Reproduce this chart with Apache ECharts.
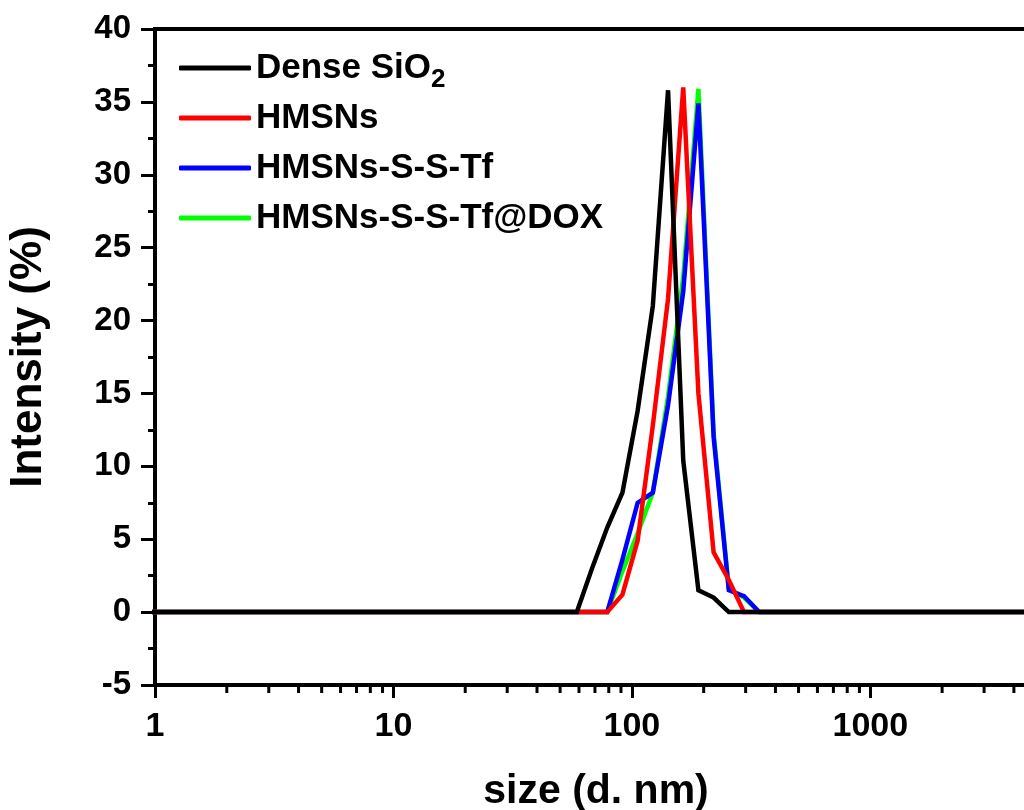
<!DOCTYPE html>
<html>
<head>
<meta charset="utf-8">
<title>DLS size distribution</title>
<script src="https://cdn.jsdelivr.net/npm/echarts@6/dist/echarts.min.js"></script>
<style>
  html, body { margin: 0; padding: 0; background: #fff; }
  #chart { width: 1024px; height: 810px; }
</style>
</head>
<body>
<div id="chart"></div>
<script>
// Zetasizer size classes (d. nm)
const sizeBins = [
  0.4, 0.4632, 0.5365, 0.6213, 0.7195, 0.8332, 0.9649,
  1.117, 1.294, 1.499, 1.736, 2.01, 2.328, 2.696, 3.122, 3.615, 4.187, 4.849, 5.615, 6.503, 7.531, 8.721,
  10.1, 11.7, 13.54, 15.69, 18.17, 21.04, 24.36, 28.21, 32.67, 37.84, 43.82, 50.75, 58.77, 68.06, 78.82, 91.28,
  105.7, 122.4, 141.8, 164.2, 190.1, 220.2, 255.0, 295.3, 342.0, 396.1, 458.7, 531.2, 615.1, 712.4, 825.0, 955.4,
  1106, 1281, 1484, 1718, 1990, 2305, 2669, 3091, 3580, 4145, 4801, 5560, 6439, 7456, 8635, 10000
];

// Intensity (%) per size class
const denseSiO2 = [
  0, 0, 0, 0, 0, 0, 0,
  0, 0, 0, 0, 0, 0, 0, 0, 0, 0, 0, 0, 0, 0, 0,
  0, 0, 0, 0, 0, 0, 0, 0, 0, 0, 0, 0, 0, 3.0, 5.8, 8.2,
  13.8, 21.0, 35.8, 10.4, 1.5, 1.0, 0, 0, 0, 0, 0, 0, 0, 0, 0, 0,
  0, 0, 0, 0, 0, 0, 0, 0, 0, 0, 0, 0, 0, 0, 0, 0
];
const hmsns = [
  0, 0, 0, 0, 0, 0, 0,
  0, 0, 0, 0, 0, 0, 0, 0, 0, 0, 0, 0, 0, 0, 0,
  0, 0, 0, 0, 0, 0, 0, 0, 0, 0, 0, 0, 0, 0, 0, 1.2,
  4.9, 12.8, 21.5, 36.0, 15.0, 4.1, 2.2, 0, 0, 0, 0, 0, 0, 0, 0, 0,
  0, 0, 0, 0, 0, 0, 0, 0, 0, 0, 0, 0, 0, 0, 0, 0
];
const hmsnsSSTf = [
  0, 0, 0, 0, 0, 0, 0,
  0, 0, 0, 0, 0, 0, 0, 0, 0, 0, 0, 0, 0, 0, 0,
  0, 0, 0, 0, 0, 0, 0, 0, 0, 0, 0, 0, 0, 0, 0, 3.6,
  7.5, 8.2, 14.2, 22.0, 34.9, 12.0, 1.5, 1.1, 0, 0, 0, 0, 0, 0, 0, 0,
  0, 0, 0, 0, 0, 0, 0, 0, 0, 0, 0, 0, 0, 0, 0, 0
];
const hmsnsSSTfDox = [
  0, 0, 0, 0, 0, 0, 0,
  0, 0, 0, 0, 0, 0, 0, 0, 0, 0, 0, 0, 0, 0, 0,
  0, 0, 0, 0, 0, 0, 0, 0, 0, 0, 0, 0, 0, 0, 0, 2.8,
  5.4, 8.2, 14.8, 23.0, 35.9, 12.3, 1.6, 1.0, 0, 0, 0, 0, 0, 0, 0, 0,
  0, 0, 0, 0, 0, 0, 0, 0, 0, 0, 0, 0, 0, 0, 0, 0
];

const seriesNames = ['Dense SiO2', 'HMSNs', 'HMSNs-S-S-Tf', 'HMSNs-S-S-Tf@DOX'];
const seriesColors = ['#000000', '#ff0000', '#0000ff', '#00ff00'];
const seriesValues = [denseSiO2, hmsns, hmsnsSSTf, hmsnsSSTfDox];

// Axis ranges and the minor tick positions of the log axis
const xMin = 1, xMax = 5000;
const yMin = -5, yMax = 40, yStep = 5;
const xMinorTicks = [
  2, 3, 4, 5, 6, 7, 8, 9,
  20, 30, 40, 50, 60, 70, 80, 90,
  200, 300, 400, 500, 600, 700, 800, 900,
  2000, 3000, 4000
];

const FONT = '"Liberation Sans", Arial, sans-serif';

function pairs(values) {
  return sizeBins.map((s, i) => [s, values[i]]);
}

// drawn back to front: the @DOX curve first, Dense SiO2 on top
const lineSeries = [3, 2, 1, 0].map(i => ({
  name: seriesNames[i],
  type: 'line',
  data: pairs(seriesValues[i]),
  symbol: 'none',
  smooth: false,
  clip: true,
  color: seriesColors[i],
  lineStyle: { color: seriesColors[i], width: 4.5, join: 'miter' }
}));

const minorTickSeries = {
  type: 'custom',
  name: 'minorTicks',
  silent: true,
  clip: false,
  data: xMinorTicks.map(v => [v, yMin]),
  renderItem: function (params, api) {
    const p = api.coord([api.value(0), yMin]);
    return {
      type: 'line',
      shape: { x1: p[0], y1: p[1], x2: p[0], y2: p[1] + 8 },
      style: { stroke: '#000', lineWidth: 3 }
    };
  }
};

const chart = echarts.init(document.getElementById('chart'), null, { renderer: 'canvas' });
chart.setOption({
  animation: false,
  backgroundColor: '#ffffff',
  grid: {
    left: 155, top: 29, width: 882, height: 656,
    show: true, borderColor: '#000', borderWidth: 4, backgroundColor: 'transparent',
    containLabel: false, outerBoundsMode: 'none'
  },
  legend: {
    orient: 'vertical',
    left: 179, top: 43, padding: 0,
    icon: 'roundRect',
    itemWidth: 72, itemHeight: 5, itemGap: 0,
    data: seriesNames,
    formatter: name => name === 'Dense SiO2' ? 'Dense SiO{sub|2}' : name,
    textStyle: {
      fontFamily: FONT, fontSize: 35, fontWeight: 'bold', color: '#000', lineHeight: 50,
      rich: {
        sub: { fontFamily: FONT, fontSize: 26, fontWeight: 'bold', color: '#000', lineHeight: 14, verticalAlign: 'bottom' }
      }
    }
  },
  xAxis: {
    type: 'log', logBase: 10, min: xMin, max: xMax,
    name: 'size (d. nm)', nameLocation: 'middle', nameGap: 86,
    nameTextStyle: { fontFamily: FONT, fontSize: 41, fontWeight: 'bold', color: '#000' },
    axisLine: { show: true, onZero: false, lineStyle: { color: '#000', width: 4 } },
    axisTick: { show: true, inside: false, length: 13, lineStyle: { color: '#000', width: 3 } },
    axisLabel: {
      fontFamily: FONT, fontSize: 34, fontWeight: 'bold', color: '#000', margin: 25,
      showMaxLabel: false,
      formatter: v => String(Math.round(v))
    },
    splitLine: { show: false },
    minorTick: { show: false }
  },
  yAxis: {
    type: 'value', min: yMin, max: yMax, interval: yStep,
    name: 'Intensity (%)', nameLocation: 'middle', nameGap: 104, nameRotate: 90,
    nameTextStyle: { fontFamily: FONT, fontSize: 44, fontWeight: 'bold', color: '#000' },
    axisLine: { show: true, onZero: false, lineStyle: { color: '#000', width: 4 } },
    axisTick: { show: true, inside: false, length: 14, lineStyle: { color: '#000', width: 3 } },
    minorTick: { show: true, splitNumber: 2, length: 7, lineStyle: { color: '#000', width: 3 } },
    axisLabel: { fontFamily: FONT, fontSize: 33, fontWeight: 'bold', color: '#000', margin: 24 },
    splitLine: { show: false },
    minorSplitLine: { show: false }
  },
  series: lineSeries.concat([minorTickSeries])
});
</script>
</body>
</html>
